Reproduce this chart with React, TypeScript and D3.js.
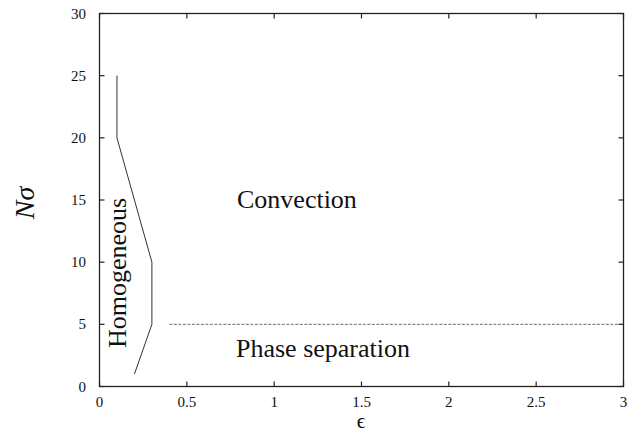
import React from "react";
import * as d3 from "d3";

const xTicks = [0, 0.5, 1, 1.5, 2, 2.5, 3];
const yTicks = [0, 5, 10, 15, 20, 25, 30];
const boundaryEps = [0.1, 0.1, 0.3, 0.3, 0.2];
const boundaryN = [25, 20, 10, 5, 1];
const separationEps = [0.4, 3];
const separationN = [5, 5];
const xTickLabels = ["0", "0.5", "1", "1.5", "2", "2.5", "3"];
const yTickLabels = ["0", "5", "10", "15", "20", "25", "30"];

const W = 644;
const H = 435;
const L = 99.5;
const R = 623.5;
const T = 13.5;
const B = 386.5;

export default function App() {
  const x = d3.scaleLinear().domain([0, 3]).range([L, R]);
  const y = d3.scaleLinear().domain([0, 30]).range([B, T]);
  const line = d3
    .line<number>()
    .x((d, i) => x(boundaryEps[i]))
    .y((d, i) => y(boundaryN[i]));
  const dash = d3
    .line<number>()
    .x((d, i) => x(separationEps[i]))
    .y((d, i) => y(separationN[i]));
  const font = "'Liberation Serif', 'DejaVu Serif', serif";
  const tl = 5;
  return (
    <svg
      width={W}
      height={H}
      style={{ position: "absolute", left: 0, top: 0, background: "#fff" }}
      fontFamily={font}
    >
      <rect x={L} y={T} width={R - L} height={B - T} fill="none" stroke="#222" strokeWidth={1.3} />
      {xTicks.map((t, i) => (
        <g key={"x" + i}>
          <line x1={x(t)} x2={x(t)} y1={B} y2={B - tl} stroke="#222" strokeWidth={1.2} />
          <line x1={x(t)} x2={x(t)} y1={T} y2={T + tl} stroke="#222" strokeWidth={1.2} />
          <text x={x(t)} y={407} textAnchor="middle" fontSize={15} fill="#111">
            {xTickLabels[i]}
          </text>
        </g>
      ))}
      {yTicks.map((t, i) => (
        <g key={"y" + i}>
          <line x1={L} x2={L + tl} y1={y(t)} y2={y(t)} stroke="#222" strokeWidth={1.2} />
          <line x1={R} x2={R - tl} y1={y(t)} y2={y(t)} stroke="#222" strokeWidth={1.2} />
          <text x={86} y={y(t) + 5} textAnchor="end" fontSize={15} fill="#111">
            {yTickLabels[i]}
          </text>
        </g>
      ))}
      <path d={line(boundaryN) || ""} fill="none" stroke="#333" strokeWidth={1} />
      <path
        d={dash(separationN) || ""}
        fill="none"
        stroke="#444"
        strokeWidth={0.8}
        strokeDasharray="3,1.5"
      />
      <text x={237} y={208} fontSize={26} fill="#111">
        Convection
      </text>
      <text x={236} y={357} fontSize={26} fill="#111">
        Phase separation
      </text>
      <text
        transform={`translate(126,348) rotate(-90)`}
        fontSize={26}
        fill="#111"
      >
        Homogeneous
      </text>
      <text
        transform={`translate(34,203) rotate(-90)`}
        fontSize={28}
        fontStyle="italic"
        textAnchor="middle"
        fill="#111"
      >
        Nσ
      </text>
      <text x={361} y={428} fontSize={21} textAnchor="middle" fill="#111">
        ϵ
      </text>
    </svg>
  );
}
